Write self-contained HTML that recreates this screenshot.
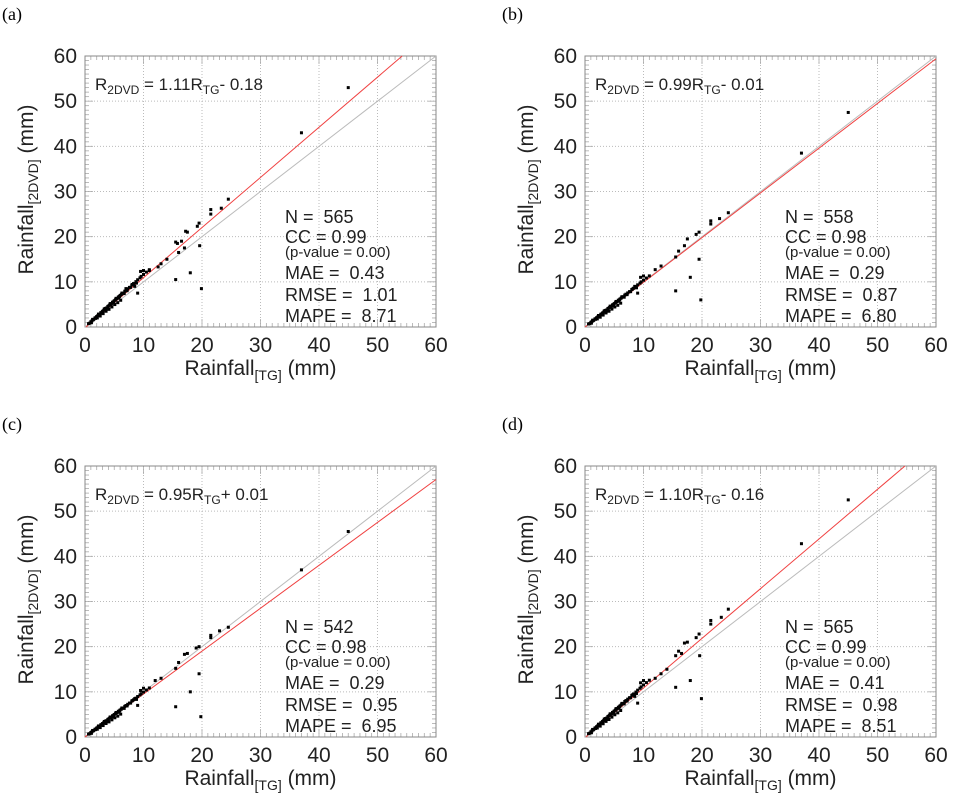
<!DOCTYPE html>
<html><head><meta charset="utf-8"><style>
body{margin:0;background:#fff}
svg{display:block;font-family:"Liberation Sans",sans-serif}
text{white-space:pre}
</style></head><body>
<svg id="fig" width="956" height="801" viewBox="0 0 956 801"></svg>
<script>
const panelLabels=["(a)","(b)","(c)","(d)"];
const slopes=[1.11,0.99,0.95,1.10];
const intercepts=[-0.18,-0.01,0.01,-0.16];
const eqTexts=["1.11R","0.99R","0.95R","1.10R"];
const eqTails=["- 0.18","- 0.01","+ 0.01","- 0.16"];
const nVals=["565","558","542","565"];
const ccVals=["0.99","0.98","0.98","0.99"];
const maeVals=["0.43","0.29","0.29","0.41"];
const rmseVals=["1.01","0.87","0.95","0.98"];
const mapeVals=["8.71","6.80","6.95","8.51"];
const tickVals=[0,10,20,30,40,50,60];
const clusterX=[0.6,0.8,1,1.2,1.4,1.5,1.7,1.9,2,2.2,2.4,2.5,2.7,2.9,3,3.2,3.4,3.5,3.7,3.9,4,4.2,4.4,4.5,4.7,4.9,5,5.2,5.4,5.5,5.7,5.9,6,6.2,6.5,6.8,7,7.3,7.6,8,8.3,8.7,9,9.4,10,10.5,11,1.1,2.1,3.1,4.1,5.1,6.1,3.6,4.6,5.6,2.6,1.3,2.3,3.3,4.3,5.3,6.3,7.2,8.1,1.8,2.8,3.8,4.8,5.8,6.7,7.8,8.8,9.6];
const clusterY=[0.7,0.8,1.1,1.3,1.5,1.6,1.9,2,2.2,2.4,2.6,2.7,3,3.1,3.3,3.5,3.7,3.9,4,4.3,4.4,4.6,4.8,4.9,5.2,5.3,5.5,5.7,5.9,6,6.3,6.4,6.6,6.8,7.1,7.5,7.7,8,8.3,8.8,9.1,9.5,9.9,10.3,11,11.5,12,0.9,1.9,2.8,3.7,4.7,5.6,3.3,4.2,5.1,2.3,1.6,2.7,3.8,4.9,6.0,7.1,7.6,8.9,1.8,2.9,3.9,5.0,6.1,7.0,8.3,9.2,10.6];
const outX=[
[45,37,24.5,23.3,21.5,21.5,19.5,19.2,17.5,17.2,15.5,15.8,16.5,17,16,19.6,18,15.5,19.9,14,13,12.5,11,10,9.5,8.5,9,7],
[45,37,24.5,23,21.5,21.5,19.5,19,17.5,17,16,15.5,19.5,18,15.5,19.8,13,12,10,9.5,8.5,9],
[45,37,24.5,23,21.5,21.5,19.5,19,17.5,17,16,15.5,19.5,18,15.5,19.8,13,12,10,9.5,8.5,9],
[45,37,24.5,23.3,21.5,21.5,19.5,19,17.5,17,16,15.5,16.5,19.6,18,15.5,19.9,14,13,12,10,9.5,8.5,9]];
const outY=[
[53,43,28.3,26.3,26,25,23,22.3,21,21.2,18.8,18.5,19,17.5,16.5,18,12,10.5,8.5,15,14,13.3,12.5,12.5,12.3,9,7.5,8.5],
[47.5,38.5,25.3,24,23.5,22.8,21,20.5,19.5,18,16.8,15.5,15,11,8,6,13.5,12.7,11.3,11,9,7.5],
[45.5,37,24.3,23.5,22.5,22,20,19.7,18.5,18.3,16.5,15.2,14,10,6.7,4.5,13,12.5,10.8,10.3,8.5,7],
[52.5,42.8,28.3,26.5,25.8,25,22.8,22,21,20.8,19,18,18.5,18,12.5,11,8.5,15,14,13,12.5,12,9,7.5]];

const NS="http://www.w3.org/2000/svg";
const svg=document.getElementById('fig');
function mk(tag,attrs,parent,text){const e=document.createElementNS(NS,tag);for(const k in attrs)e.setAttribute(k,attrs[k]);if(text!==undefined)e.textContent=text;parent.appendChild(e);return e;}
const W=351,H=271;
[[0,0],[500,0],[0,410],[500,410]].forEach((off,p)=>{
  const x0=85+off[0],y0=56+off[1];
  const sx=v=>x0+v/60*W, sy=v=>y0+H-v/60*H;
  const g=mk('g',{},svg);
  
  
  const lab=mk('text',{x:2+off[0],y:20+off[1],'font-family':'Liberation Serif,serif','font-size':18},g,panelLabels[p]);
  
  tickVals.forEach(t=>{if(t>0&&t<60){
    mk('line',{x1:sx(t),x2:sx(t),y1:y0,y2:y0+H,stroke:'#bbb','stroke-dasharray':'1,2','stroke-width':1},g);
    mk('line',{x1:x0,x2:x0+W,y1:sy(t),y2:sy(t),stroke:'#bbb','stroke-dasharray':'1,2','stroke-width':1},g);}});
  for(let i=0;i<=60;i++){const L=i%10===0?8:4;
    mk('line',{x1:sx(i),x2:sx(i),y1:y0+H,y2:y0+H-L,stroke:'#aaa','stroke-width':0.8},g);
    mk('line',{x1:sx(i),x2:sx(i),y1:y0,y2:y0+L,stroke:'#aaa','stroke-width':0.8},g);
    mk('line',{x1:x0,x2:x0+L,y1:sy(i),y2:sy(i),stroke:'#aaa','stroke-width':0.8},g);
    mk('line',{x1:x0+W,x2:x0+W-L,y1:sy(i),y2:sy(i),stroke:'#aaa','stroke-width':0.8},g);}
  const fr=mk('rect',{x:x0,y:y0,width:W,height:H,fill:'none',stroke:'#888','stroke-width':1},g);
  
  tickVals.forEach(t=>{
    const a=mk('text',{x:sx(t),y:y0+H+25,'text-anchor':'middle','font-size':21,fill:'#222'},g,String(t));
    
    const b=mk('text',{x:x0-8,y:sy(t)+7,'text-anchor':'end','font-size':21,fill:'#222'},g,String(t));
    });
  const id=mk('line',{x1:sx(0),y1:sy(0),x2:sx(60),y2:sy(60),stroke:'#bbb','stroke-width':1},g);
  
  const m=slopes[p],b=intercepts[p];
  let xe=60,ye=m*60+b; if(ye>60){ye=60;xe=(60-b)/m;}
  const fl=mk('line',{x1:sx(Math.max(0,-b/m)),y1:sy(Math.max(0,b)),x2:sx(xe),y2:sy(ye),stroke:'#f04040','stroke-width':1},g);
  
  const pts=clusterX.map((x,i)=>[x,clusterY[i]*m/1.05]).concat(outX[p].map((x,i)=>[x,outY[p][i]]));
  pts.forEach(q=>{const r=mk('rect',{x:sx(q[0])-1.5,y:sy(q[1])-1.5,width:3,height:3,fill:'#000'},g);
    });
  const eq=mk('text',{x:x0+10,y:y0+34,'font-size':17,fill:'#222'},g);
  
  eq.innerHTML='R<tspan font-size="12" dy="4">2DVD</tspan><tspan dy="-4"> = '+eqTexts[p]+'</tspan><tspan font-size="12" dy="4">TG</tspan><tspan dy="-4">'+eqTails[p]+'</tspan>';
  const st=[["N =  "+nVals[p],167,18],["CC = "+ccVals[p],187,18],["(p-value = 0.00)",201,15],["MAE =  "+maeVals[p],223,18],["RMSE =  "+rmseVals[p],245,18],["MAPE =  "+mapeVals[p],266,18]];
  st.forEach(s=>{const t=mk('text',{x:x0+200,y:y0+s[1],'font-size':s[2],fill:'#222'},g,s[0]);
    });
  const xt=mk('text',{x:x0+W/2,y:y0+H+48,'text-anchor':'middle','font-size':21,fill:'#222'},g);
  xt.innerHTML='Rainfall<tspan font-size="14" dy="5">[TG]</tspan><tspan dy="-5"> (mm)</tspan>';
  
  const yt=mk('text',{x:0,y:0,'text-anchor':'middle','font-size':21,fill:'#222',transform:'translate('+(x0-52)+','+(y0+H/2-2)+') rotate(-90)'},g);
  yt.innerHTML='Rainfall<tspan font-size="14" dy="5">[2DVD]</tspan><tspan dy="-5"> (mm)</tspan>';
  
});
</script>
</body></html>
